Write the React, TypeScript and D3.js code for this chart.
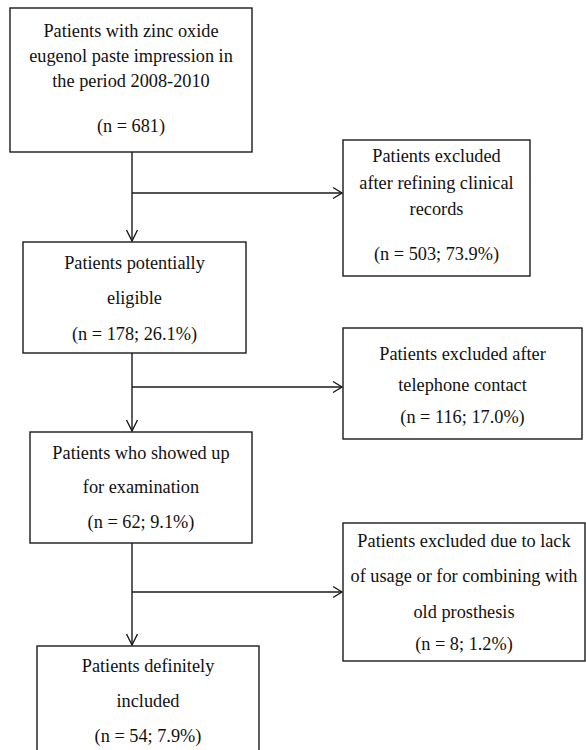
import React from "react";
import * as d3 from "d3";

// ---- content ----
const mainTitles: string[][] = [
  ["Patients with zinc oxide", "eugenol paste impression in", "the period 2008-2010"],
  ["Patients potentially", "eligible"],
  ["Patients who showed up", "for examination"],
  ["Patients definitely", "included"],
];
const mainCounts: string[] = ["(n = 681)", "(n = 178; 26.1%)", "(n = 62; 9.1%)", "(n = 54; 7.9%)"];

const exclTitles: string[][] = [
  ["Patients excluded", "after refining clinical", "records"],
  ["Patients excluded after", "telephone contact"],
  ["Patients excluded due to lack", "of usage or for combining with", "old prosthesis"],
];
const exclCounts: string[] = ["(n = 503; 73.9%)", "(n = 116; 17.0%)", "(n = 8; 1.2%)"];

// ---- layout (pixels) ----
const mainBoxes = [
  { x0: 10, x1: 252, y0: 8, y1: 152, lines: [30, 55, 80, 125] },
  { x0: 23, x1: 246, y0: 242, y1: 353, lines: [262, 297, 333] },
  { x0: 30, x1: 252, y0: 432, y1: 543, lines: [452, 486, 521] },
  { x0: 37, x1: 259, y0: 646, y1: 760, lines: [665, 700, 735] },
];
const exclBoxes = [
  { x0: 343, x1: 530, y0: 140, y1: 276, lines: [155, 182, 208, 253] },
  { x0: 343, x1: 582, y0: 328, y1: 439, lines: [353, 384, 416] },
  { x0: 343, x1: 585, y0: 523, y1: 661, lines: [540, 575, 611, 643] },
];
const branchY = [193, 387, 592];
const trunkX = 132;

const FONT = "Liberation Serif, Tinos, Times New Roman, Times, serif";
const FS = 18.3;
const STROKE = "#1a1a1a";

type Box = { x0: number; x1: number; y0: number; y1: number; lines: number[] };

function BoxView({ b, texts }: { b: Box; texts: string[] }) {
  const cx = (b.x0 + b.x1) / 2;
  return (
    <g>
      <rect x={b.x0} y={b.y0} width={b.x1 - b.x0} height={b.y1 - b.y0} fill="#fff" stroke={STROKE} strokeWidth={1.4} />
      {texts.map((t, i) => (
        <text key={i} transform={`translate(${cx},${b.lines[i]}) scale(1,1.08)`} dy="0.35em" textAnchor="middle" style={{ fontFamily: FONT, fontSize: FS }} fill="#111">
          {t}
        </text>
      ))}
    </g>
  );
}

export default function App() {
  const line = d3.line<[number, number]>();
  const paths: string[] = [];
  for (let i = 0; i < mainBoxes.length - 1; i++) {
    const yA = mainBoxes[i].y1;
    const yB = mainBoxes[i + 1].y0 - 1;
    paths.push(line([[trunkX, yA], [trunkX, yB]])!);
    paths.push(line([[trunkX - 5.5, yB - 11], [trunkX, yB], [trunkX + 5.5, yB - 11]])!);
  }
  branchY.forEach((y, i) => {
    const xB = exclBoxes[i].x0 - 1;
    paths.push(line([[trunkX, y], [xB, y]])!);
    paths.push(line([[xB - 9, y - 5.5], [xB, y], [xB - 9, y + 5.5]])!);
  });

  return (
    <svg width={586} height={750} style={{ position: "absolute", left: 0, top: 0, background: "#fff" }}>
      <rect width={586} height={750} fill="#fff" />
      {paths.map((d, i) => (
        <path key={i} d={d} fill="none" stroke={STROKE} strokeWidth={1.4} />
      ))}
      {mainBoxes.map((b, i) => (
        <BoxView key={"m" + i} b={b} texts={[...mainTitles[i], mainCounts[i]]} />
      ))}
      {exclBoxes.map((b, i) => (
        <BoxView key={"e" + i} b={b} texts={[...exclTitles[i], exclCounts[i]]} />
      ))}
    </svg>
  );
}
